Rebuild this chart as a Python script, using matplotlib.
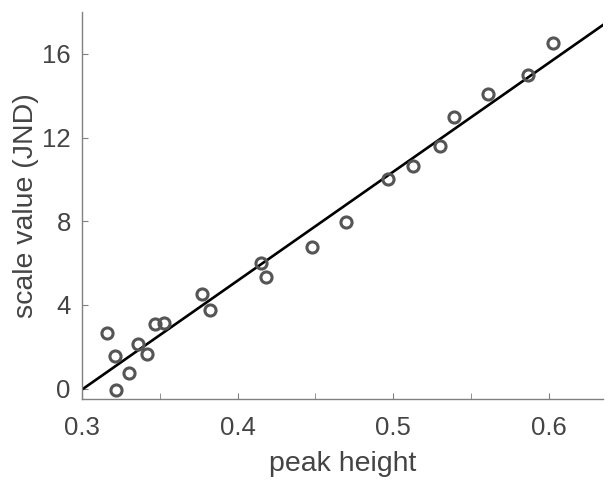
import matplotlib
matplotlib.use('Agg')
import matplotlib.pyplot as plt
import numpy as np

plt.rcParams['font.family'] = ['Liberation Sans', 'DejaVu Sans']

# measured points: peak height vs scale value (JND)
peak_height = [0.316, 0.321, 0.322, 0.330, 0.336, 0.342, 0.347, 0.353,
               0.377, 0.382, 0.415, 0.418, 0.448, 0.470, 0.497, 0.513,
               0.530, 0.539, 0.561, 0.587, 0.603]
scale_value = [2.64, 1.54, -0.05, 0.72, 2.12, 1.66, 3.09, 3.15,
               4.52, 3.76, 6.00, 5.35, 6.78, 7.97, 10.01, 10.62,
               11.60, 12.96, 14.07, 15.00, 16.54]

# fitted line endpoints
fit_x = [0.300, 0.635]
fit_y = [-0.05, 17.38]

x_ticks = [0.3, 0.4, 0.5, 0.6]
x_minor = [0.35, 0.45, 0.55]
y_ticks = [0, 4, 8, 12, 16]

fig = plt.figure(figsize=(6.15, 4.88), dpi=100)
ax = fig.add_axes([0.1333, 0.1824, 0.8472, 0.7930])

ax.plot(fit_x, fit_y, color='black', lw=1.9, zorder=2)
ax.plot(peak_height, scale_value, 'o', mfc='none', mec='#555555',
        mew=2.2, ms=8, zorder=3)

ax.set_xlim(0.3, 0.635)
ax.set_ylim(-0.5, 18)
ax.set_xticks(x_ticks)
ax.set_xticks(x_minor, minor=True)
ax.set_yticks(y_ticks)
ax.set_xticklabels(['0.3', '0.4', '0.5', '0.6'])

for s in ['top', 'right']:
    ax.spines[s].set_visible(False)
for s in ['left', 'bottom']:
    ax.spines[s].set_color('#808080')
    ax.spines[s].set_linewidth(1.0)

ax.tick_params(axis='both', which='both', direction='in', length=4,
               color='#808080', labelcolor='#444444', labelsize=18.5)
ax.tick_params(axis='x', pad=12)
ax.tick_params(axis='y', pad=8)

ax.set_xlabel('peak height', fontsize=20.5, color='#444444', labelpad=8)
ax.set_ylabel('scale value (JND)', fontsize=20.5, color='#444444', labelpad=2)

fig.savefig('out.png', dpi=100)
